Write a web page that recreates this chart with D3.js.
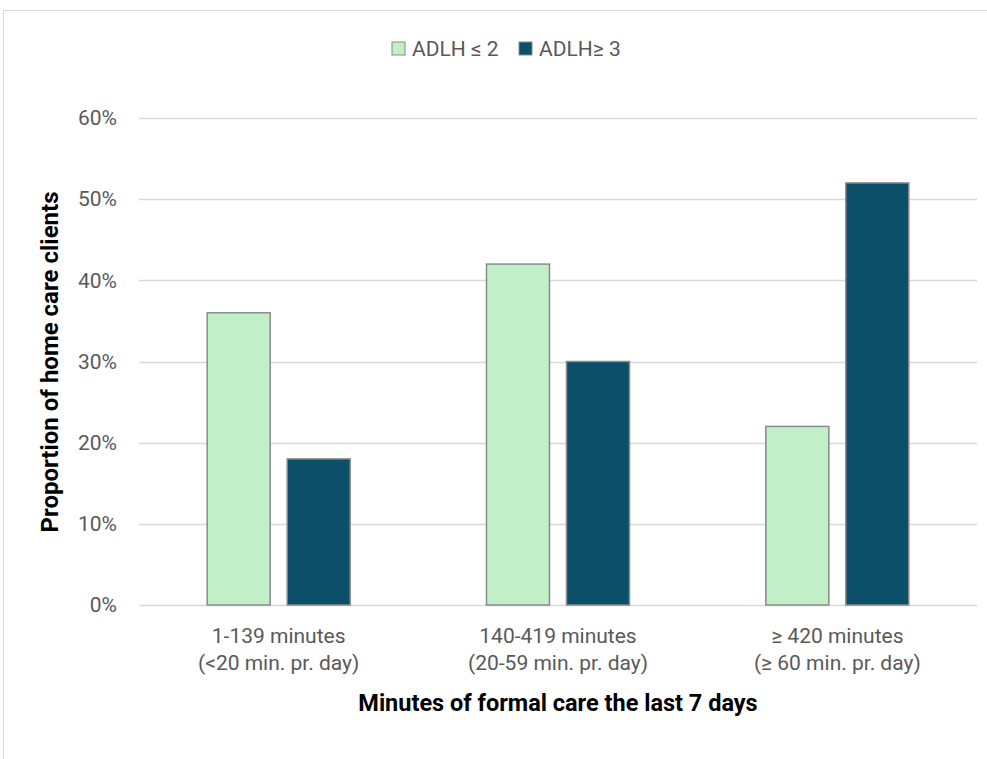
<!DOCTYPE html>
<html>
<head>
<meta charset="utf-8">
<script src="https://cdn.jsdelivr.net/npm/d3@7"></script>
<style>
  html, body { margin: 0; padding: 0; background: #fff; }
  svg { display: block; }
</style>
</head>
<body>
<svg id="chart" width="987" height="759"></svg>
<script>
// Minutes of formal care in the last 7 days, by ADLH group
const categories = ["1-139 minutes|(<20 min. pr. day)", "140-419 minutes|(20-59 min. pr. day)", "≥ 420 minutes|(≥ 60 min. pr. day)"];
const seriesNames = ["ADLH ≤ 2", "ADLH≥ 3"];
const adlhLow = [36, 42, 22];
const adlhHigh = [18, 30, 52];
const yTicks = [0, 10, 20, 30, 40, 50, 60];
const colors = ["#c1f0c8", "#0b5068"];

const svg = d3.select("#chart");
const W = 987, H = 759;
const font = "Roboto, 'Open Sans', sans-serif";
const labelSize = 21;

// chart frame
svg.append("rect")
  .attr("x", 3.5).attr("y", 10.5)
  .attr("width", W + 10).attr("height", H + 10)
  .attr("fill", "#fff").attr("stroke", "#d9d9d9").attr("stroke-width", 1);

const plot = { left: 139, right: 977, top: 118, bottom: 605 };

const x = d3.scaleBand().domain(categories).range([plot.left, plot.right]).paddingInner(0).paddingOuter(0);
const y = d3.scaleLinear().domain([0, 60]).range([plot.bottom, plot.top]);

// gridlines
svg.append("g").selectAll("line").data(yTicks).join("line")
  .attr("x1", plot.left).attr("x2", plot.right)
  .attr("y1", d => Math.round(y(d)) + 0.5).attr("y2", d => Math.round(y(d)) + 0.5)
  .attr("stroke", "#d9d9d9").attr("stroke-width", 1.3);

// y axis labels
const yAxis = d3.axisLeft(y).tickValues(yTicks).tickFormat(d => d + "%").tickSize(0).tickPadding(0);
const gy = svg.append("g").attr("transform", `translate(${plot.left - 22},0)`).call(yAxis);
gy.select(".domain").remove();
gy.selectAll("text").attr("font-family", font).attr("font-size", labelSize).attr("fill", "#595959");

// bars
const barW = 63, gap = 17;
const data = categories.map((c, i) => [adlhLow[i], adlhHigh[i]]);
const groups = svg.append("g").selectAll("g").data(data).join("g")
  .attr("transform", (d, i) => `translate(${x(categories[i]) + x.bandwidth() / 2},0)`);
groups.selectAll("rect").data(d => d).join("rect")
  .attr("x", (d, j) => j === 0 ? -(barW + gap / 2) : gap / 2)
  .attr("y", d => y(d))
  .attr("width", barW)
  .attr("height", d => y(0) - y(d))
  .attr("fill", (d, j) => colors[j])
  .attr("stroke", "#8a8a8a").attr("stroke-width", 1.5);

// x axis labels (two lines)
const xl = svg.append("g").selectAll("text").data(categories).join("text")
  .attr("x", d => x(d) + x.bandwidth() / 2)
  .attr("y", 643)
  .attr("text-anchor", "middle")
  .attr("font-family", font).attr("font-size", labelSize).attr("fill", "#595959");
xl.each(function(d) {
  const parts = d.split("|");
  d3.select(this).selectAll("tspan").data(parts).join("tspan")
    .attr("x", x(d) + x.bandwidth() / 2)
    .attr("dy", (p, k) => k === 0 ? 0 : 27)
    .text(p => p);
});

// axis titles
svg.append("text")
  .attr("x", 558).attr("y", 711)
  .attr("text-anchor", "middle")
  .attr("font-family", font).attr("font-weight", "bold").attr("font-size", 23.5).attr("fill", "#000")
  .text("Minutes of formal care the last 7 days");

svg.append("text")
  .attr("transform", "translate(58,362) rotate(-90)")
  .attr("text-anchor", "middle")
  .attr("font-family", font).attr("font-weight", "bold").attr("font-size", 24).attr("fill", "#000")
  .text("Proportion of home care clients");

// legend
const legendItems = [{ name: seriesNames[0], x: 392 }, { name: seriesNames[1], x: 519 }];
const lg = svg.append("g").selectAll("g").data(legendItems).join("g")
  .attr("transform", d => `translate(${d.x},42)`);
lg.append("rect").attr("width", 13).attr("height", 13)
  .attr("fill", (d, i) => colors[i]).attr("stroke", "#8a8a8a").attr("stroke-width", 1);
lg.append("text").attr("x", 20).attr("y", 14)
  .attr("font-family", font).attr("font-size", labelSize).attr("fill", "#595959")
  .text(d => d.name);
</script>
</body>
</html>
